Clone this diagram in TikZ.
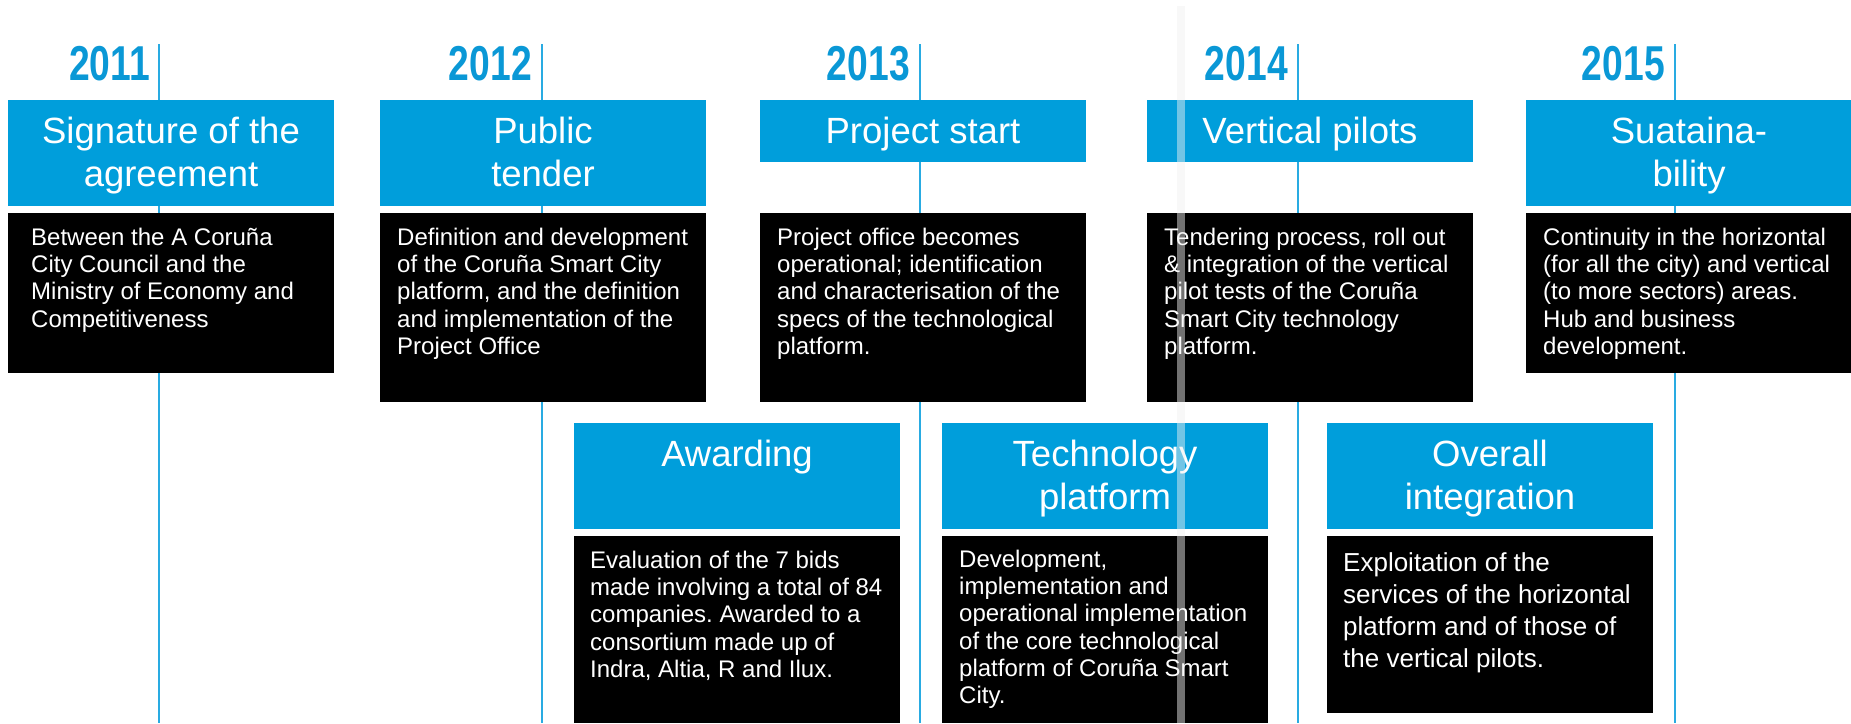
\documentclass[tikz,border=0pt]{standalone}
\usepackage{fontspec}
\setmainfont{Liberation Sans}
\newfontfamily\yearfont[FakeStretch=0.76]{Liberation Sans}
\definecolor{boxblue}{HTML}{009EDB}
\definecolor{yearblue}{HTML}{0A98D6}
\definecolor{lineblue}{HTML}{29ABE2}
\frenchspacing
\tikzset{
  yearline/.style={draw=lineblue, line width=2.2pt},
  yearlabel/.style={inner sep=0pt, anchor=base east, text=yearblue, font=\yearfont\bfseries\fontsize{49}{55}\selectfont},
  bluebox/.style={fill=boxblue, inner sep=0pt, outer sep=0pt, anchor=north west, minimum width=326pt},
  tallbox/.style={bluebox, minimum height=106pt},
  shortbox/.style={bluebox, minimum height=62pt},
  blackbox/.style={fill=black, inner sep=0pt, outer sep=0pt, anchor=north west, minimum width=326pt},
  titletext/.style={inner sep=0pt, anchor=north, align=center, text=white, font=\fontsize{36.5}{43}\selectfont},
  desctext/.style={inner sep=0pt, anchor=north west, align=left, text=white, font=\fontsize{24}{27.3}\selectfont},
  desctextbig/.style={inner sep=0pt, anchor=north west, align=left, text=white, font=\fontsize{26}{32}\selectfont},
  stripe/.style={fill=black!6, fill opacity=0.48, draw=none}
}
\begin{document}
\begin{tikzpicture}[x=1pt,y=-1pt]
\useasboundingbox (0,0) rectangle (1851,723);
% timeline verticals
\foreach \n/\x in {1/159,2/542,3/920,4/1298,5/1675}{
  \coordinate (top\n) at (\x,44);
  \coordinate (bot\n) at (\x,723);
  \draw[yearline] (top\n) -- (bot\n);
}
% years
\node[yearlabel] (y1) at (150,80) {2011};
\node[yearlabel] (y2) at (532,80) {2012};
\node[yearlabel] (y3) at (910,80) {2013};
\node[yearlabel] (y4) at (1288,80) {2014};
\node[yearlabel] (y5) at (1665,80) {2015};
% row 1 title boxes
\node[tallbox] (b1) at (8,100) {};
\node[tallbox] (b2) at (380,100) {};
\node[shortbox] (b3) at (760,100) {};
\node[shortbox] (b4) at (1147,100) {};
\node[tallbox] (b5) at (1526,100) {};
% row 1 descriptions
\node[blackbox, minimum height=160pt] (d1) at (8,213) {};
\node[blackbox, minimum height=189pt] (d2) at (380,213) {};
\node[blackbox, minimum height=189pt] (d3) at (760,213) {};
\node[blackbox, minimum height=189pt] (d4) at (1147,213) {};
\node[blackbox, minimum height=160pt] (d5) at (1526,213) {};
% row 2 boxes
\node[tallbox] (b6) at (574,423) {};
\node[tallbox] (b7) at (942,423) {};
\node[tallbox] (b8) at (1327,423) {};
\node[blackbox, minimum height=187pt] (d6) at (574,536) {};
\node[blackbox, minimum height=187pt] (d7) at (942,536) {};
\node[blackbox, minimum height=177pt] (d8) at (1327,536) {};
% titles
\node[titletext] (t1) at (171,113) {\strut Signature of the\\\strut agreement};
\node[titletext] (t2) at (543,113) {\strut Public\\\strut tender};
\node[titletext] (t3) at (923,113) {\strut Project start};
\node[titletext] (t4) at (1310,113) {\strut Vertical pilots};
\node[titletext] (t5) at (1689,113) {\strut Suataina-\\\strut bility};
\node[titletext] (t6) at (737,436) {\strut Awarding};
\node[titletext] (t7) at (1105,436) {\strut Technology\\\strut platform};
\node[titletext] (t8) at (1490,436) {\strut Overall\\\strut integration};
% descriptions
\node[desctext] (x1) at (31,226) {\strut Between the A Coruña\\\strut City Council and the\\\strut Ministry of Economy and\\\strut Competitiveness};
\node[desctext] (x2) at (397,226) {\strut Definition and development\\\strut of the Coruña Smart City\\\strut platform, and the definition\\\strut and implementation of the\\\strut Project Office};
\node[desctext] (x3) at (777,226) {\strut Project office becomes\\\strut operational; identification\\\strut and characterisation of the\\\strut specs of the technological\\\strut platform.};
\node[desctext] (x4) at (1164,226) {\strut Tendering process, roll out\\\strut \& integration of the vertical\\\strut pilot tests of the Coruña\\\strut Smart City technology\\\strut platform.};
\node[desctext] (x5) at (1543,226) {\strut Continuity in the horizontal\\\strut (for all the city) and vertical\\\strut (to more sectors) areas.\\\strut Hub and business\\\strut development.};
\node[desctext] (x6) at (590,549) {\strut Evaluation of the 7 bids\\\strut made involving a total of 84\\\strut companies. Awarded to a\\\strut consortium made up of\\\strut Indra, Altia, R and Ilux.};
\node[desctext] (x7) at (959,548) {\strut Development,\\\strut implementation and\\\strut operational implementation\\\strut of the core technological\\\strut platform of Coruña Smart\\\strut City.};
\node[desctextbig] (x8) at (1343,549) {\strut Exploitation of the\\\strut services of the horizontal\\\strut platform and of those of\\\strut the vertical pilots.};
% translucent stripe
\path[stripe] (1177,6) rectangle (1185,723);
\end{tikzpicture}
\end{document}
